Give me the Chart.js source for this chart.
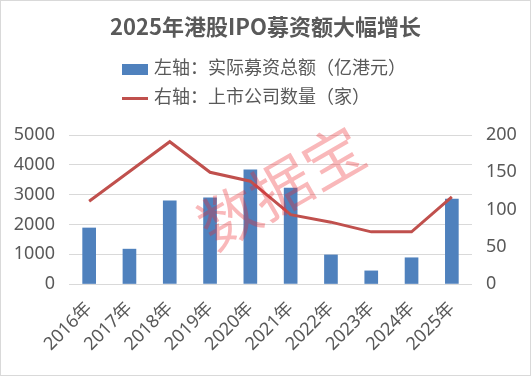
<!DOCTYPE html>
<html>
<head>
<meta charset="utf-8">
<script src="https://cdn.jsdelivr.net/npm/chart.js@4/dist/chart.umd.min.js"></script>
<style>
  body { margin: 0; background: #fff; }
  #wrap { position: relative; width: 531px; height: 376px; font-family: "Noto Sans", "Noto Sans CJK SC", sans-serif; color: #595959; }
  #frame { position: absolute; left: 0; top: 0; width: 531px; height: 376px; box-sizing: border-box; border: 1px solid #d9d9d9; pointer-events: none; }
  #title { position: absolute; left: 0; width: 531px; top: 9px; text-align: center; font-size: 22px; font-weight: bold; font-family: "Noto Sans CJK SC", sans-serif; }
  .leg { position: absolute; left: 122px; font-size: 18px; font-family: "Noto Sans CJK SC", sans-serif; line-height: 20px; white-space: nowrap; }
  .leg i { display: inline-block; width: 26px; vertical-align: middle; margin-right: 6px; }
  canvas { position: absolute; left: 0; top: 0; }
</style>
</head>
<body>
<div id="wrap">
  <canvas id="chart" width="531" height="376"></canvas>
  <div id="title">2025年港股IPO募资额大幅增长</div>
  <div class="leg" style="top:56px"><i style="height:11px;background:#4f81bd"></i>左轴：实际募资总额（亿港元）</div>
  <div class="leg" style="top:85px"><i style="height:3px;background:#c0504d"></i>右轴：上市公司数量（家）</div>
  <div id="frame"></div>
</div>
<script>
const years = ["2016年", "2017年", "2018年", "2019年", "2020年", "2021年", "2022年", "2023年", "2024年", "2025年"];
// 实际募资总额（亿港元）
const funds = [1880, 1170, 2790, 2890, 3830, 3220, 975, 440, 880, 2850];
// 上市公司数量（家）
const counts = [111, 151, 191, 150, 138, 93, 83, 70, 70, 117];
const leftTicks = [0, 1000, 2000, 3000, 4000, 5000];
const rightTicks = [0, 50, 100, 150, 200];

const textColor = "#595959";
const tickFont = { family: "'Noto Sans', 'Noto Sans CJK SC', sans-serif", size: 18 };

// watermark
const watermark = {
    id: "watermark",
    afterDatasetsDraw(chart) {
        const c = chart.ctx;
        c.save();
        c.translate(281, 187);
        c.rotate(-30 * Math.PI / 180);
        c.font = "60px 'Noto Sans CJK SC'";
        c.fillStyle = "rgba(238, 40, 45, 0.33)";
        c.textAlign = "center";
        c.textBaseline = "middle";
        c.fillText("数据宝", 0, 0);
        c.restore();
    }
};

const ctx = document.getElementById("chart").getContext("2d");
const chart = new Chart(ctx, {
    data: {
        labels: years,
        datasets: [
            {
                type: "line",
                label: "右轴：上市公司数量（家）",
                data: counts,
                yAxisID: "y1",
                borderColor: "#c0504d",
                borderWidth: 3,
                pointRadius: 0,
                tension: 0,
                order: 0
            },
            {
                type: "bar",
                label: "左轴：实际募资总额（亿港元）",
                data: funds,
                yAxisID: "y",
                backgroundColor: "#4f81bd",
                barThickness: 13,
                order: 1
            }
        ]
    },
    options: {
        responsive: false,
        animation: false,
        layout: { padding: { top: 135, left: 0, right: 0, bottom: 0 } },
        plugins: {
            legend: { display: false },
            title: { display: false },
            tooltip: { enabled: false }
        },
        scales: {
            x: {
                offset: true,
                grid: { display: false },
                border: { display: false },
                ticks: { color: textColor, font: tickFont, minRotation: 45, maxRotation: 45, padding: 6 },
                afterFit: (s) => { s.height = 92; }
            },
            y: {
                position: "left",
                min: 0,
                max: 5000,
                afterBuildTicks: (s) => { s.ticks = leftTicks.map(v => ({ value: v })); },
                grid: { color: "#d9d9d9", lineWidth: 1, drawTicks: false },
                border: { display: false },
                ticks: { color: textColor, font: tickFont, padding: 14, callback: (v) => String(v) },
                afterFit: (s) => { s.width = 69; }
            },
            y1: {
                position: "right",
                min: 0,
                max: 200,
                afterBuildTicks: (s) => { s.ticks = rightTicks.map(v => ({ value: v })); },
                grid: { display: false, drawTicks: false },
                border: { display: false },
                ticks: { color: textColor, font: tickFont, padding: 14, callback: (v) => String(v) },
                afterFit: (s) => { s.width = 59; }
            }
        }
    },
    plugins: [watermark]
});
</script>
</body>
</html>
